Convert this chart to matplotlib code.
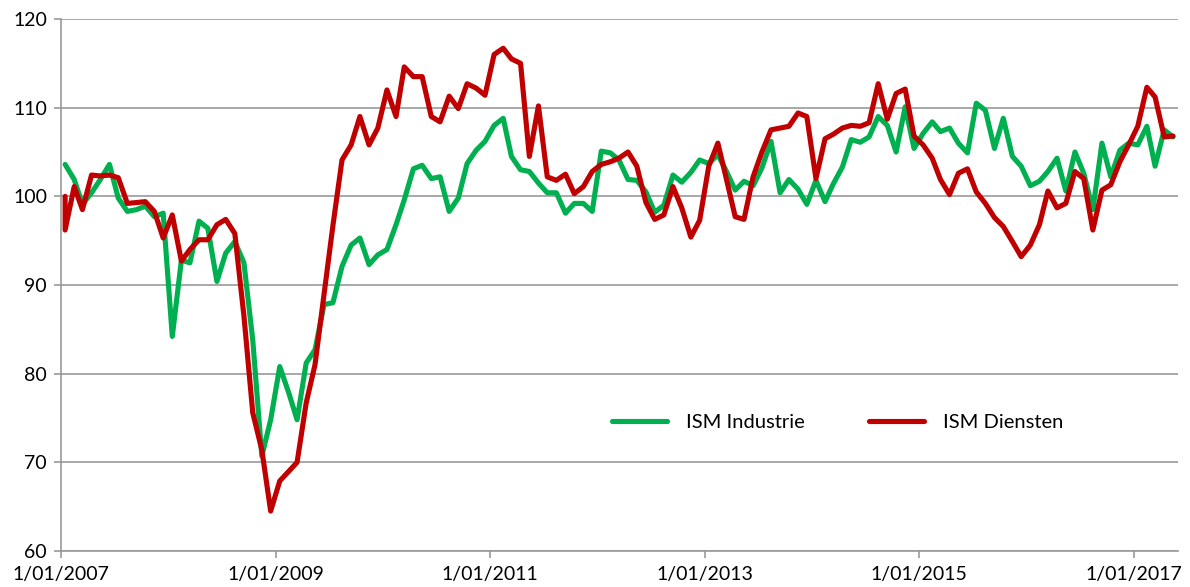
import pandas as pd
import matplotlib
matplotlib.use("Agg")
import matplotlib.pyplot as plt
import matplotlib.dates as mdates
from matplotlib.ticker import FuncFormatter

# ISM Industrie (green), monthly from Jan 2007 to May 2017
industrie = [
    103.6, 101.9, 99.1, 100.4, 101.9, 103.6, 99.8, 98.3, 98.5, 98.9, 97.7, 98.1,
    84.2, 92.8, 92.5, 97.2, 96.4, 90.4, 93.6, 94.9, 92.5, 83.8, 70.7, 74.8,
    80.8, 77.8, 74.8, 81.2, 82.7, 87.8, 88.0, 92.1, 94.5, 95.3, 92.3, 93.4,
    94.0, 96.8, 99.6, 103.1, 103.5, 102.0, 102.2, 98.3, 99.8, 103.7, 105.2, 106.2,
    108.0, 108.8, 104.5, 103.0, 102.8, 101.5, 100.4, 100.4, 98.1, 99.2, 99.2, 98.3,
    105.1, 104.9, 104.1, 101.9, 101.8, 100.5, 98.2, 99.0, 102.4, 101.6, 102.7, 104.1,
    103.7, 104.7, 102.9, 100.7, 101.7, 101.2, 103.2, 106.2, 100.4, 101.9, 100.8, 99.1,
    101.8, 99.4, 101.4, 103.3, 106.4, 106.1, 106.7, 109.0, 108.0, 105.0, 110.1, 105.4,
    107.1, 108.4, 107.3, 107.7, 106.0, 104.9, 110.5, 109.7, 105.4, 108.8, 104.5, 103.4,
    101.2, 101.7, 102.8, 104.3, 100.6, 105.0, 102.6, 98.5, 106.0, 102.2, 105.2, 106.0,
    105.8, 107.9, 103.4, 107.5, 106.7,
]

# ISM Diensten (red); the series opens at the index base of 100
diensten_start = 100.0
diensten = [
    96.2, 101.1, 98.5, 102.4, 102.3, 102.4, 102.1, 99.2, 99.3, 99.4, 98.3, 95.3,
    97.9, 92.7, 94.0, 95.1, 95.1, 96.8, 97.4, 95.8, 86.5, 75.6, 71.4, 64.5,
    67.9, 69.0, 70.0, 76.7, 81.0, 89.0, 96.7, 104.1, 105.8, 109.0, 105.8, 107.7,
    112.0, 109.0, 114.6, 113.5, 113.5, 109.0, 108.4, 111.3, 109.9, 112.7, 112.2, 111.4,
    116.0, 116.7, 115.5, 115.0, 104.5, 110.2, 102.2, 101.8, 102.5, 100.3, 101.1, 102.8,
    103.6, 103.9, 104.3, 105.0, 103.4, 99.3, 97.4, 97.9, 101.1, 98.7, 95.4, 97.3,
    103.4, 106.0, 102.1, 97.7, 97.4, 102.2, 105.0, 107.5, 107.7, 107.9, 109.4, 109.0,
    102.0, 106.5, 107.0, 107.7, 108.0, 107.9, 108.3, 112.7, 108.7, 111.6, 112.1, 106.8,
    105.8, 104.3, 101.9, 100.2, 102.6, 103.1, 100.5, 99.2, 97.6, 96.6, 94.9, 93.2,
    94.5, 96.8, 100.6, 98.7, 99.2, 102.8, 102.0, 96.2, 100.7, 101.3, 103.9, 105.8,
    107.9, 112.3, 111.2, 106.7, 106.8,
]

# mid-month dates
dates = pd.date_range("2007-01-01", periods=len(industrie), freq="MS") + pd.Timedelta(days=14)
dates_d = dates.insert(0, dates[0])
diensten_all = [diensten_start] + diensten

tick_years = [2007, 2009, 2011, 2013, 2015, 2017]

font = ["Lato", "DejaVu Sans"]
plt.rcParams["font.family"] = font

fig = plt.figure(figsize=(11.9, 5.87), dpi=100)
ax = fig.add_axes([61 / 1190, 1 - 551 / 587, (1178 - 61) / 1190, (551 - 19) / 587])

green = "#00B050"
red = "#C00000"
ax.plot(dates, industrie, color=green, lw=3.7, label="ISM Industrie",
        solid_joinstyle="round", solid_capstyle="round")
ax.plot(dates_d, diensten_all, color=red, lw=3.7, label="ISM Diensten",
        solid_joinstyle="round", solid_capstyle="round")

ax.set_ylim(60, 120)
ax.set_yticks(range(60, 121, 10))
ax.set_xlim(pd.Timestamp("2007-01-01"), pd.Timestamp("2017-06-01"))
ax.set_xticks([pd.Timestamp(f"{y}-01-01") for y in tick_years])
ax.xaxis.set_major_formatter(FuncFormatter(
    lambda v, p: (lambda d: f"{d.day}/{d.month:02d}/{d.year}")(mdates.num2date(v))))

ax.grid(axis="y", color="#999999", lw=1.2)
ax.set_axisbelow(True)
for s in ["top", "right"]:
    ax.spines[s].set_visible(False)
for s in ["left", "bottom"]:
    ax.spines[s].set_color("#999999")
    ax.spines[s].set_linewidth(1.2)
ax.tick_params(axis="both", colors="#999999", length=5, width=1.2,
               labelcolor="black", labelsize=14)
ax.tick_params(axis="y", pad=5)
ax.tick_params(axis="x", pad=6)

leg = fig.legend(loc="center", bbox_to_anchor=(0.704, 1 - 422 / 587), ncol=2,
                 frameon=False, fontsize=14.5, handlelength=2.7,
                 handletextpad=0.95, columnspacing=3.2)

fig.savefig("out.png", dpi=100)
